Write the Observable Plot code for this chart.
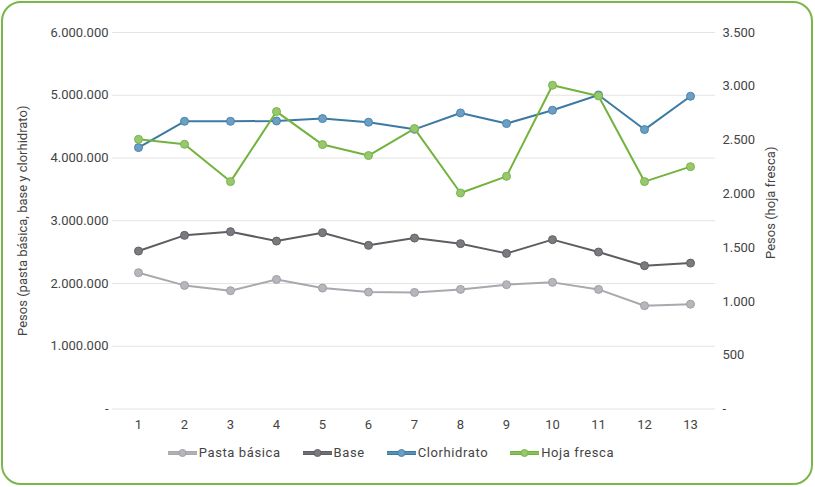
<!DOCTYPE html>
<html>
<head>
<meta charset="utf-8">
<script src="https://cdn.jsdelivr.net/npm/d3@7"></script>
<script src="https://cdn.jsdelivr.net/npm/@observablehq/plot@0.6"></script>
<style>
  html, body { margin: 0; padding: 0; background: #fff; }
  #wrap { position: relative; width: 815px; height: 487px; overflow: hidden; font-family: Roboto, "Noto Sans", sans-serif; }
  #frame { position: absolute; left: 1px; top: 1px; width: 812px; height: 484px; box-sizing: border-box; border: 2px solid #7ab648; border-radius: 20px; }
  #chart { position: absolute; left: 0; top: 0; }
  #legend { position: absolute; left: -17px; top: 445px; width: 815px; display: flex; justify-content: center; gap: 21px; font-size: 13px; letter-spacing: 0.6px; color: #444; }
  .item { display: flex; align-items: center; }
  .item svg { margin-right: 1px; }
</style>
</head>
<body>
<div id="wrap">
  <div id="chart"></div>
  <div id="legend"></div>
  <div id="frame"></div>
</div>
<script>
// ---- data ----
const periods = [1, 2, 3, 4, 5, 6, 7, 8, 9, 10, 11, 12, 13];
const pastaBasica = [2172000, 1970000, 1885000, 2065000, 1927000, 1863000, 1858000, 1906000, 1981000, 2018000, 1906000, 1646000, 1671000];
const base = [2517000, 2767000, 2826000, 2676000, 2810000, 2608000, 2724000, 2635000, 2480000, 2699000, 2501000, 2284000, 2325000];
const clorhidrato = [4166000, 4585000, 4585000, 4590000, 4628000, 4570000, 4457000, 4718000, 4549000, 4761000, 5005000, 4453000, 4984000];
const hojaFresca = [2507, 2461, 2114, 2765, 2458, 2356, 2607, 2008, 2163, 3010, 2910, 2114, 2253];
const leftTicks = [0, 1000000, 2000000, 3000000, 4000000, 5000000, 6000000];
const rightTicks = [0, 500, 1000, 1500, 2000, 2500, 3000, 3500];
const leftMax = 6000000;
const rightMax = 3500;

const seriesInfo = [
  {name: "Pasta básica", values: pastaBasica, axis: "left", line: "#a9a8ae", fill: "#b7b6bc", dotStroke: "#a09fa5"},
  {name: "Base", values: base, axis: "left", line: "#5e5d62", fill: "#7b7a7f", dotStroke: "#616065"},
  {name: "Clorhidrato", values: clorhidrato, axis: "left", line: "#3c7aa4", fill: "#6d9ec4", dotStroke: "#4a84ab"},
  {name: "Hoja fresca", values: hojaFresca, axis: "right", line: "#72b33d", fill: "#97c76e", dotStroke: "#79b547"}
];

const k = leftMax / rightMax;
const fmt = d => d === 0 ? "-" : d3.format(",")(d).replace(/,/g, ".");

const marks = [
  Plot.gridY(leftTicks, {stroke: "#e3e3e3", strokeOpacity: 1, strokeWidth: 1}),
  Plot.axisY(leftTicks, {anchor: "left", tickSize: 0, tickPadding: 4, tickFormat: fmt, fontSize: 13, color: "#444", label: null}),
  Plot.axisY(rightTicks.map(v => v * k), {anchor: "right", tickSize: 0, tickPadding: 7, tickFormat: d => fmt(Math.round(d / k)), fontSize: 13, color: "#444", label: null}),
  Plot.axisX(periods, {tickSize: 0, tickPadding: 11, fontSize: 13, color: "#444", label: null})
];

for (const s of seriesInfo) {
  const rows = periods.map((p, i) => ({x: p, y: s.axis === "right" ? s.values[i] * k : s.values[i]}));
  marks.push(Plot.line(rows, {x: "x", y: "y", stroke: s.line, strokeWidth: 2}));
  marks.push(Plot.dot(rows, {x: "x", y: "y", r: 4, fill: s.fill, stroke: s.dotStroke, strokeWidth: 1}));
}

marks.push(Plot.text(["Pesos (pasta básica, base y clorhidrato)"], {frameAnchor: "left", textAnchor: "middle", dx: -90, dy: 0, rotate: -90, fontSize: 13, fill: "#444"}));
marks.push(Plot.text(["Pesos (hoja fresca)"], {frameAnchor: "right", textAnchor: "middle", dx: 55, dy: -18, rotate: -90, fontSize: 13, fill: "#444"}));

const plot = Plot.plot({
  width: 815,
  height: 440,
  marginTop: 32,
  marginBottom: 31.5,
  marginLeft: 112,
  marginRight: 100,
  style: {fontFamily: "Roboto, 'Noto Sans', sans-serif", fontSize: "13px", background: "transparent", overflow: "visible"},
  x: {type: "point", domain: periods, padding: 0.5},
  y: {domain: [0, leftMax]},
  marks
});
document.getElementById("chart").appendChild(plot);

const legend = document.getElementById("legend");
for (const s of seriesInfo) {
  const item = document.createElement("div");
  item.className = "item";
  item.innerHTML = `<svg width="31" height="12"><line x1="1" y1="6" x2="30" y2="6" stroke="${s.line}" stroke-width="4"/><line x1="1" y1="6" x2="30" y2="6" stroke="${s.fill}" stroke-width="1.2"/><circle cx="15.5" cy="6" r="3.5" fill="${s.fill}" stroke="${s.dotStroke}" stroke-width="1"/></svg><span>${s.name}</span>`;
  legend.appendChild(item);
}
</script>
</body>
</html>
